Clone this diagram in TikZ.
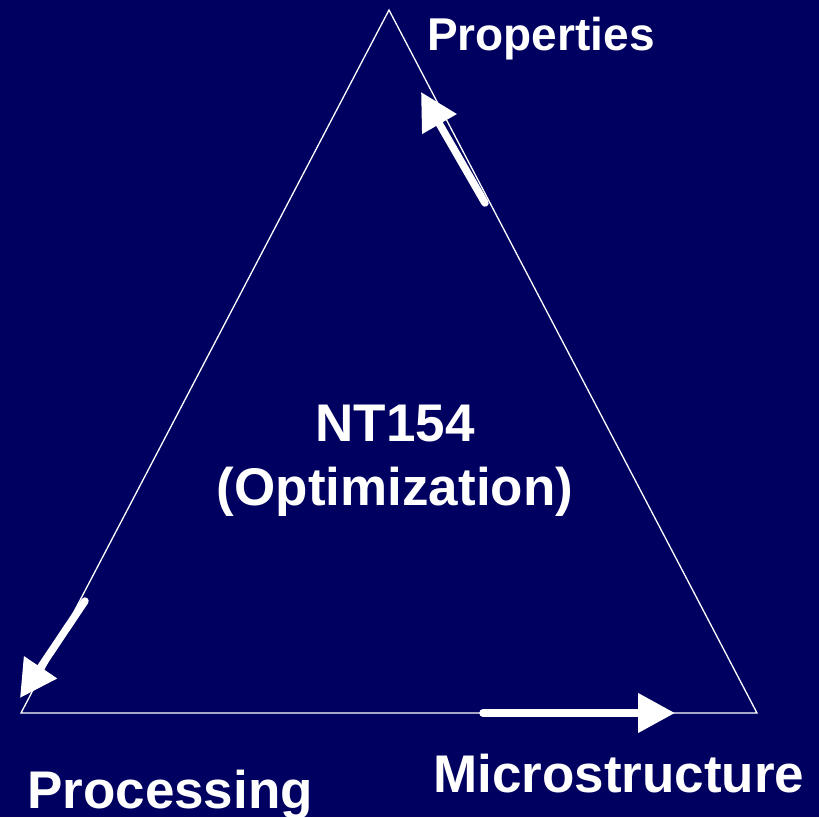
\documentclass[tikz,border=0pt]{standalone}
\usepackage{fontspec}
\setmainfont{Liberation Sans}
\usepackage{xcolor}
\usetikzlibrary{arrows.meta}
\definecolor{navybg}{RGB}{0,0,96}

\begin{document}
\begin{tikzpicture}[x = 1pt, y = -1pt,
		label/.style = {text = white, font = \bfseries\fontsize{53}{64}\selectfont, inner sep = 0pt},
		flow/.style = {white, line width = 7.5pt, line cap = round, -{Triangle[length = 37pt, width = 38pt]}}]
					\def\xMAX{819};
					\def\yMAX{817};

					\fill [navybg] (0,0) rectangle (\xMAX,\yMAX);
					\useasboundingbox (0,0) rectangle (\xMAX,\yMAX);

					\begin{scope}
						\coordinate (top) at (389,10);
						\coordinate (left) at (21,713);
						\coordinate (right) at (757,713);
						\draw [white, line width = 1.3pt, line join = miter] (top) -- (right) -- (left) -- cycle;
					\end{scope}

					\begin{scope}
						\coordinate (propTail) at (485,203);
						\coordinate (propTip) at (421,92);
						\coordinate (procTail) at (85,601);
						\coordinate (procTip) at (20,698);
						\coordinate (microTail) at (483,713);
						\coordinate (microTip) at (675,713);

						\draw [flow] (propTail) -- (propTip);
						\draw [flow] (procTail) -- (procTip);
						\draw [flow] (microTail) -- (microTip);
					\end{scope}

					\node [label, anchor = base west, font = \bfseries\fontsize{46}{55}\selectfont] (properties) at (427,50) {Properties};
					\node [label, anchor = base west] (microstructure) at (433,792) {Microstructure};
					\node [label, anchor = base west] (processing) at (27,808) {Processing};
					\node [label, anchor = base, align = center] (nt) at (395,505) {NT154\\(Optimization)};
				\end{tikzpicture}
\end{document}
